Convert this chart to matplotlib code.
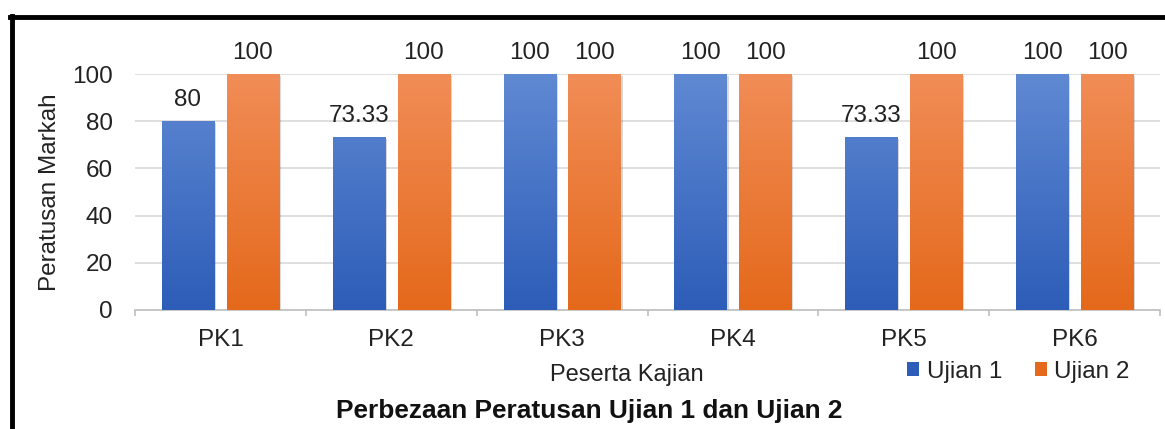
import matplotlib.pyplot as plt
import matplotlib.colors as mcolors
from matplotlib.lines import Line2D
import numpy as np

plt.rcParams['font.family'] = ['Liberation Sans', 'DejaVu Sans']

categories = ['PK1', 'PK2', 'PK3', 'PK4', 'PK5', 'PK6']
ujian1 = [80, 73.33, 100, 100, 73.33, 100]
ujian2 = [100, 100, 100, 100, 100, 100]
labels1 = ['80', '73.33', '100', '100', '73.33', '100']
labels2 = ['100', '100', '100', '100', '100', '100']

blue_top, blue_bot = '#6089D3', '#2D5DB8'
orange_top, orange_bot = '#F18D57', '#E4691B'

fig = plt.figure(figsize=(11.65, 4.29), dpi=100)
ax = fig.add_axes([0.1159, 0.2774, 0.8798, 0.5501])

x = np.arange(len(categories))
w = 0.305
off = 0.19
fs = 17.5


def gradient_bars(bars, ctop, cbot):
    cmap = mcolors.LinearSegmentedColormap.from_list('g', [cbot, ctop])
    grad = np.linspace(0, 1, 256).reshape(-1, 1)
    for b in bars:
        x0 = b.get_x()
        im = ax.imshow(grad, cmap=cmap, origin='lower', aspect='auto',
                       extent=[x0, x0 + b.get_width(), 0, 100], zorder=3)
        im.set_clip_path(b)


# soft shadow behind bars
ax.bar(x - off + 0.012, ujian1, w, bottom=-0.8, color='#000000', alpha=0.15, zorder=1.5)
ax.bar(x + off + 0.012, ujian2, w, bottom=-0.8, color='#000000', alpha=0.15, zorder=1.5)

b1 = ax.bar(x - off, ujian1, w, color=blue_bot, zorder=2, label='Ujian 1')
b2 = ax.bar(x + off, ujian2, w, color=orange_bot, zorder=2, label='Ujian 2')
gradient_bars(b1, blue_top, blue_bot)
gradient_bars(b2, orange_top, orange_bot)

for xi, v, t in zip(x - off, ujian1, labels1):
    ax.annotate(t, (xi, v), xytext=(0, 7), textcoords='offset points',
                ha='center', va='bottom', fontsize=fs, color='#222222',
                annotation_clip=False)
for xi, v, t in zip(x + off, ujian2, labels2):
    ax.annotate(t, (xi, v), xytext=(0, 7), textcoords='offset points',
                ha='center', va='bottom', fontsize=fs, color='#222222',
                annotation_clip=False)

ax.set_xlim(-0.5, len(categories) - 0.5)
ax.set_ylim(0, 100)
ax.set_yticks(np.arange(0, 101, 20))
ax.set_xticks(x)
ax.set_xticklabels(categories)
ax.set_xticks(np.arange(-0.5, len(categories), 1), minor=True)
ax.tick_params(axis='x', which='major', length=0, pad=14, labelsize=fs, labelcolor='#222222')
ax.tick_params(axis='x', which='minor', length=4.5, color='#BFBFBF', width=1.2)
ax.tick_params(axis='y', length=0, pad=16, labelsize=fs, labelcolor='#222222')
ax.grid(axis='y', color='#D9D9D9', linewidth=1.2, zorder=0)
ax.set_axisbelow(True)
for s in ['top', 'right', 'left']:
    ax.spines[s].set_visible(False)
ax.spines['bottom'].set_color('#BFBFBF')
ax.spines['bottom'].set_linewidth(1.2)

fig.text(0.0425, 0.552, 'Peratusan Markah', rotation=90, ha='center', va='center',
         fontsize=17.5, color='#222222')
fig.text(0.538, 0.127, 'Peserta Kajian', ha='center', va='center', fontsize=17,
         color='#222222')

ax.legend(loc='center', bbox_to_anchor=(0.862, -0.262), ncol=2, frameon=False,
          fontsize=fs, handlelength=0.5, handleheight=0.5, handletextpad=0.3,
          columnspacing=1.35, labelcolor='#222222')

fig.text(0.506, 0.042, 'Perbezaan Peratusan Ujian 1 dan Ujian 2', ha='center',
         va='center', fontsize=18.9, fontweight='bold', color='#111111')

fig.add_artist(Line2D([0.0086, 1.0], [0.960, 0.960], transform=fig.transFigure,
                      color='black', linewidth=3.5))
fig.add_artist(Line2D([0.0103, 0.0103], [0.962, 0.0], transform=fig.transFigure,
                      color='black', linewidth=3.5))

fig.savefig('out.png', dpi=100)
